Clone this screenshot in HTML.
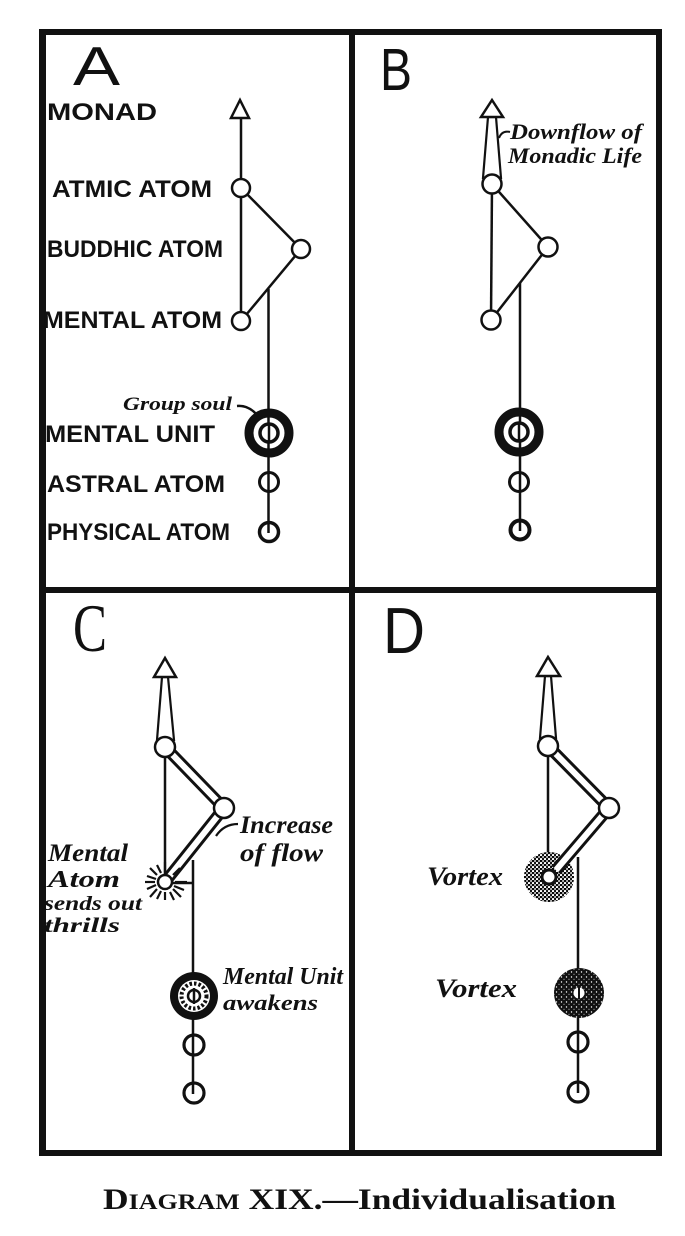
<!DOCTYPE html>
<html><head><meta charset="utf-8"><style>
html,body{margin:0;padding:0;background:#fff;}
svg{display:block;}
.lab{font-family:"Liberation Sans",sans-serif;font-weight:bold;font-size:24px;fill:#111;}
.cur{font-family:"Liberation Serif",serif;font-weight:bold;font-style:italic;fill:#111;}
.big{font-family:"Liberation Sans",sans-serif;fill:#111;}
</style></head><body>
<svg width="685" height="1236" viewBox="0 0 685 1236" xmlns="http://www.w3.org/2000/svg">
<defs>
<pattern id="st" width="4" height="4" patternUnits="userSpaceOnUse"><rect width="4" height="4" fill="#fff"/><circle cx="1" cy="1" r="1.2" fill="#000"/><circle cx="3" cy="3" r="1.1" fill="#000"/><circle cx="3" cy="1" r="0.6" fill="#000"/></pattern>
<pattern id="dk" width="5" height="5" patternUnits="userSpaceOnUse"><rect width="5" height="5" fill="#111"/><circle cx="1.5" cy="2" r="0.7" fill="#fff"/><circle cx="4" cy="4.2" r="0.5" fill="#fff"/></pattern>
</defs>
<rect width="685" height="1236" fill="#fff"/>

<!-- frame -->
<g fill="#111">
<rect x="39" y="29" width="623" height="6"/>
<rect x="40" y="1150" width="622" height="6"/>
<rect x="39" y="29" width="7" height="1127"/>
<rect x="656" y="29" width="6" height="1127"/>
<rect x="349" y="29" width="6" height="1127"/>
<rect x="39" y="587" width="623" height="6"/>
</g>

<g stroke="#111" stroke-width="2.5" fill="none">
<!-- ===== Panel A ===== -->
<line x1="241" y1="118" x2="241" y2="321"/>
<line x1="241" y1="188" x2="301" y2="249"/>
<line x1="301" y1="249" x2="241" y2="321"/>
<line x1="268.5" y1="289" x2="268.5" y2="533"/>
<polygon points="240,100 231,118 249,118" fill="#fff"/>
<circle cx="241" cy="188" r="9" fill="#fff"/>
<circle cx="301" cy="249" r="9" fill="#fff"/>
<circle cx="241" cy="321" r="9" fill="#fff"/>
<circle cx="269" cy="433" r="20" stroke-width="9"/>
<circle cx="269" cy="433" r="9" stroke-width="3.5" fill="#fff"/>
<line x1="269" y1="424" x2="269" y2="442"/>
<circle cx="269" cy="482" r="9.5" stroke-width="3"/>
<circle cx="269" cy="532" r="9.5" stroke-width="3.5"/>
<path d="M237,406 Q249,405 258,416" stroke-width="2.5"/>

<!-- ===== Panel B ===== -->
<line x1="492" y1="184" x2="491" y2="320"/>
<line x1="492" y1="184" x2="548" y2="247"/>
<line x1="548" y1="247" x2="491" y2="320"/>
<line x1="520" y1="283" x2="520" y2="531"/>
<polygon points="488,117 496,117 501,178 483,178" fill="#fff" stroke-width="2.2"/>
<polygon points="492,100 481,117 503,117" fill="#fff"/>
<circle cx="492" cy="184" r="9.5" fill="#fff"/>
<circle cx="548" cy="247" r="9.5" fill="#fff"/>
<circle cx="491" cy="320" r="9.5" fill="#fff"/>
<circle cx="519" cy="432" r="20" stroke-width="9"/>
<circle cx="519" cy="432" r="9" stroke-width="3.5" fill="#fff"/>
<line x1="519" y1="423" x2="519" y2="441"/>
<circle cx="519" cy="482" r="9.5" stroke-width="3"/>
<circle cx="520" cy="530" r="9.5" stroke-width="4"/>
<path d="M499,138 q3,-8 11,-6" stroke-width="2"/>

<!-- ===== Panel C ===== -->
<line x1="165" y1="747" x2="165" y2="882"/>
<line x1="193" y1="860" x2="193" y2="1094"/>
<line x1="172" y1="883" x2="193" y2="883"/>
<line x1="165" y1="747" x2="224" y2="808" stroke-width="12"/>
<line x1="165" y1="747" x2="224" y2="808" stroke="#fff" stroke-width="6"/>
<line x1="224" y1="808" x2="165" y2="882" stroke-width="12"/>
<line x1="224" y1="808" x2="165" y2="882" stroke="#fff" stroke-width="6"/>
<polygon points="162,677 168,677 174,740 157,740" fill="#fff" stroke-width="2.2"/>
<polygon points="165,658 154,677 176,677" fill="#fff"/>
<circle cx="165" cy="747" r="10" fill="#fff"/>
<circle cx="224" cy="808" r="10" fill="#fff"/>
<g stroke-width="2.2">
<line x1="145" y1="882" x2="155" y2="882"/><line x1="175" y1="882" x2="187" y2="882"/>
<line x1="165" y1="862" x2="165" y2="872"/><line x1="165" y1="892" x2="165" y2="900"/>
<line x1="150" y1="868" x2="157" y2="875"/><line x1="173" y1="889" x2="181" y2="897"/>
<line x1="150" y1="897" x2="157" y2="889"/><line x1="173" y1="875" x2="180" y2="868"/>
<line x1="147" y1="876" x2="156" y2="879"/><line x1="147" y1="889" x2="156" y2="885"/>
<line x1="157" y1="865" x2="161" y2="873"/><line x1="157" y1="899" x2="161" y2="891"/>
<line x1="174" y1="886" x2="184" y2="890"/><line x1="170" y1="892" x2="174" y2="900"/>
</g>
<circle cx="165" cy="882" r="7" fill="#fff" stroke-width="2.5"/>
<circle cx="194" cy="996" r="24" fill="#111" stroke="none"/>
<circle cx="194" cy="996" r="16" fill="#fff" stroke="none"/>
<circle cx="194" cy="996" r="12.5" stroke-width="4" stroke-dasharray="2.5 2"/>
<circle cx="194" cy="996" r="6" fill="#fff" stroke-width="2.5"/>
<line x1="194" y1="988" x2="194" y2="1004"/>
<circle cx="194" cy="1045" r="10" stroke-width="3.2"/>
<circle cx="194" cy="1093" r="10" stroke-width="3.2"/>
<path d="M216,836 q8,-12 22,-12" stroke-width="2.2"/>

<!-- ===== Panel D ===== -->
<line x1="548" y1="746" x2="548" y2="877"/>
<line x1="578" y1="857" x2="578" y2="1093"/>
<circle cx="549" cy="877" r="25" fill="url(#st)" stroke="none"/>
<line x1="548" y1="746" x2="609" y2="808" stroke-width="12"/>
<line x1="548" y1="746" x2="609" y2="808" stroke="#fff" stroke-width="6"/>
<line x1="609" y1="808" x2="556" y2="870" stroke-width="12"/>
<line x1="609" y1="808" x2="556" y2="870" stroke="#fff" stroke-width="6"/>
<polygon points="545,676 551,676 556,738 540,738" fill="#fff" stroke-width="2.2"/>
<polygon points="548,657 537,676 560,676" fill="#fff"/>
<circle cx="548" cy="746" r="10" fill="#fff"/>
<circle cx="609" cy="808" r="10" fill="#fff"/>
<circle cx="549" cy="877" r="7" fill="#fff" stroke-width="3"/>
<circle cx="579" cy="993" r="25" fill="url(#dk)" stroke="none"/>
<circle cx="579" cy="993" r="5.5" fill="#fff" stroke="none"/>
<line x1="579" y1="987" x2="579" y2="999" stroke-width="2"/>
<circle cx="578" cy="1042" r="10" stroke-width="3.2"/>
<circle cx="578" cy="1092" r="10" stroke-width="3.2"/>
</g>

<!-- big letters -->
<text class="big" x="73" y="85" font-size="55" textLength="47" lengthAdjust="spacingAndGlyphs">A</text>
<text class="big" x="380" y="90" font-size="59" textLength="32" lengthAdjust="spacingAndGlyphs">B</text>
<text x="73" y="651" font-family="Liberation Serif, serif" font-size="68" fill="#111" textLength="34" lengthAdjust="spacingAndGlyphs">C</text>
<text class="big" x="383" y="653" font-size="65" textLength="42" lengthAdjust="spacingAndGlyphs">D</text>

<!-- panel A labels -->
<text class="lab" x="47" y="120" font-size="23" textLength="110" lengthAdjust="spacingAndGlyphs">MONAD</text>
<text class="lab" x="52" y="197" textLength="160" lengthAdjust="spacingAndGlyphs">ATMIC  ATOM</text>
<text class="lab" x="47" y="257" textLength="176" lengthAdjust="spacingAndGlyphs">BUDDHIC  ATOM</text>
<text class="lab" x="43" y="328" textLength="179" lengthAdjust="spacingAndGlyphs">MENTAL  ATOM</text>
<text class="lab" x="45" y="442" textLength="170" lengthAdjust="spacingAndGlyphs">MENTAL UNIT</text>
<text class="lab" x="47" y="492" textLength="178" lengthAdjust="spacingAndGlyphs">ASTRAL  ATOM</text>
<text class="lab" x="47" y="540" textLength="183" lengthAdjust="spacingAndGlyphs">PHYSICAL  ATOM</text>
<text class="cur" x="123" y="410" font-size="19" textLength="109" lengthAdjust="spacingAndGlyphs">Group soul</text>

<!-- panel B labels -->
<text class="cur" x="510" y="139" font-size="22" textLength="132" lengthAdjust="spacingAndGlyphs">Downflow of</text>
<text class="cur" x="508" y="163" font-size="22" textLength="134" lengthAdjust="spacingAndGlyphs">Monadic Life</text>

<!-- panel C labels -->
<text class="cur" x="240" y="833" font-size="25" textLength="93" lengthAdjust="spacingAndGlyphs">Increase</text>
<text class="cur" x="240" y="861" font-size="25" textLength="83" lengthAdjust="spacingAndGlyphs">of flow</text>
<text class="cur" x="48" y="861" font-size="25" textLength="80" lengthAdjust="spacingAndGlyphs">Mental</text>
<text class="cur" x="48" y="887" font-size="24" textLength="72" lengthAdjust="spacingAndGlyphs">Atom</text>
<text class="cur" x="44" y="910" font-size="20" textLength="98" lengthAdjust="spacingAndGlyphs">sends out</text>
<text class="cur" x="44" y="932" font-size="21" textLength="76" lengthAdjust="spacingAndGlyphs">thrills</text>
<text class="cur" x="223" y="984" font-size="24" textLength="120" lengthAdjust="spacingAndGlyphs">Mental Unit</text>
<text class="cur" x="223" y="1010" font-size="22" textLength="95" lengthAdjust="spacingAndGlyphs">awakens</text>

<!-- panel D labels -->
<text class="cur" x="427" y="885" font-size="26" textLength="76" lengthAdjust="spacingAndGlyphs">Vortex</text>
<text class="cur" x="435" y="997" font-size="26" textLength="82" lengthAdjust="spacingAndGlyphs">Vortex</text>

<!-- caption -->
<text x="103" y="1209" font-family="Liberation Serif, serif" font-weight="bold" font-size="30" fill="#111" textLength="513" lengthAdjust="spacingAndGlyphs">D<tspan font-size="22">IAGRAM</tspan> XIX.—Individualisation</text>
</svg>
</body></html>
